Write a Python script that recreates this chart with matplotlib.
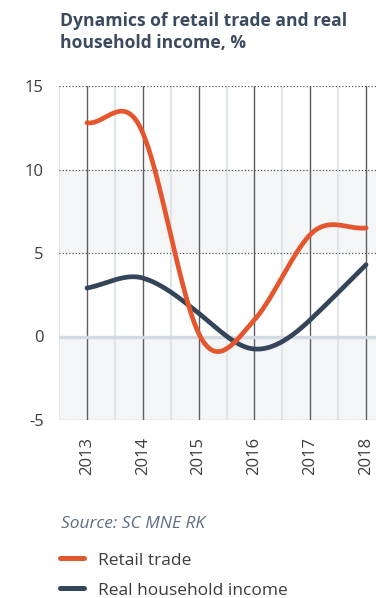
import numpy as np
import matplotlib.pyplot as plt
from matplotlib.lines import Line2D

plt.rcParams['font.family'] = ['Open Sans', 'DejaVu Sans']
plt.rcParams['axes.unicode_minus'] = False

years = [2013, 2014, 2015, 2016, 2017, 2018]
retail = [12.8, 12.2, 0.2, 1.0, 6.1, 6.5]
income = [2.9, 3.5, 1.4, -0.75, 1.0, 4.3]
y_ticks = [-5, 0, 5, 10, 15]

ORANGE = '#e4572e'
NAVY = '#354559'
TEXT = '#3c3c3c'


def smooth(x, y, c=1.25, n=40):
    # cardinal-style Hermite spline through the points
    x = np.asarray(x, float)
    y = np.asarray(y, float)
    m = np.zeros_like(y)
    m[1:-1] = c * (y[2:] - y[:-2]) / (x[2:] - x[:-2])
    m[0] = (y[1] - y[0]) / (x[1] - x[0])
    m[-1] = (y[-1] - y[-2]) / (x[-1] - x[-2])
    xs, ys = [], []
    for i in range(len(x) - 1):
        h = x[i + 1] - x[i]
        t = np.linspace(0, 1, n, endpoint=(i == len(x) - 2))
        h00 = 2 * t**3 - 3 * t**2 + 1
        h10 = t**3 - 2 * t**2 + t
        h01 = -2 * t**3 + 3 * t**2
        h11 = t**3 - t**2
        xs.append(x[i] + t * h)
        ys.append(h00 * y[i] + h10 * h * m[i] + h01 * y[i + 1] + h11 * h * m[i + 1])
    return np.concatenate(xs), np.concatenate(ys)


fig = plt.figure(figsize=(3.76, 5.98), dpi=100)
W, H = 376, 598
ax = fig.add_axes([59 / W, 1 - 420 / H, (394 - 59) / W, (420 - 86) / H])
ax.set_xlim(2012.5, 2018.5)
ax.set_ylim(-5, 15)

# alternating horizontal bands
for lo in (-5, 5):
    ax.axhspan(lo, lo + 5, color='#f4f5f7', lw=0, zorder=0)

# vertical grid: light at half years, dark at years
for xv in np.arange(2012.5, 2019, 1.0):
    ax.axvline(xv, color='#e0e5ea', lw=1.6, zorder=1)
for xv in years:
    ax.axvline(xv, color='#5e5e5e', lw=1.0, zorder=2)

for yv in (15, 10, 5, -5):
    ax.axhline(yv, color='#555555', lw=0.9, ls=(0, (1, 1.6)), zorder=2)
ax.axhline(0, color='#d3dae1', lw=2.4, zorder=2)

xs, ys = smooth(years, retail)
ax.plot(xs, ys, color=ORANGE, lw=3.4, solid_capstyle='round', zorder=4)
xs, ys = smooth(years, income)
ax.plot(xs, ys, color=NAVY, lw=3.4, solid_capstyle='round', zorder=3)

for s in ax.spines.values():
    s.set_visible(False)
ax.set_yticks(y_ticks)
ax.set_yticklabels([str(v) for v in y_ticks])
ax.set_xticks(years)
ax.set_xticklabels([str(v) for v in years], rotation=90)
ax.tick_params(axis='y', length=0, pad=11, labelsize=12, labelcolor=TEXT)
ax.tick_params(axis='x', length=0, pad=12, labelsize=12, labelcolor=TEXT)

fig.text(60 / W, 1 - 12 / H, 'Dynamics of retail trade and real\nhousehold income, %',
         fontsize=12.6, fontweight='bold', color='#3b4a5e', va='top',
         linespacing=1.3)
fig.text(61 / W, 1 - 528 / H, 'Source: SC MNE RK', fontsize=12.5, style='italic',
         color='#5d6d83', va='baseline')

# legend
for yy, col, lab in [(558, ORANGE, 'Retail trade'), (588, NAVY, 'Real household income')]:
    fig.add_artist(Line2D([60 / W, 84 / W], [1 - yy / H] * 2, color=col, lw=3.6,
                          solid_capstyle='round'))
    fig.text(98 / W, 1 - (yy + 7) / H, lab, fontsize=12.5, color=TEXT, va='baseline')

fig.savefig('out.png', dpi=100)
